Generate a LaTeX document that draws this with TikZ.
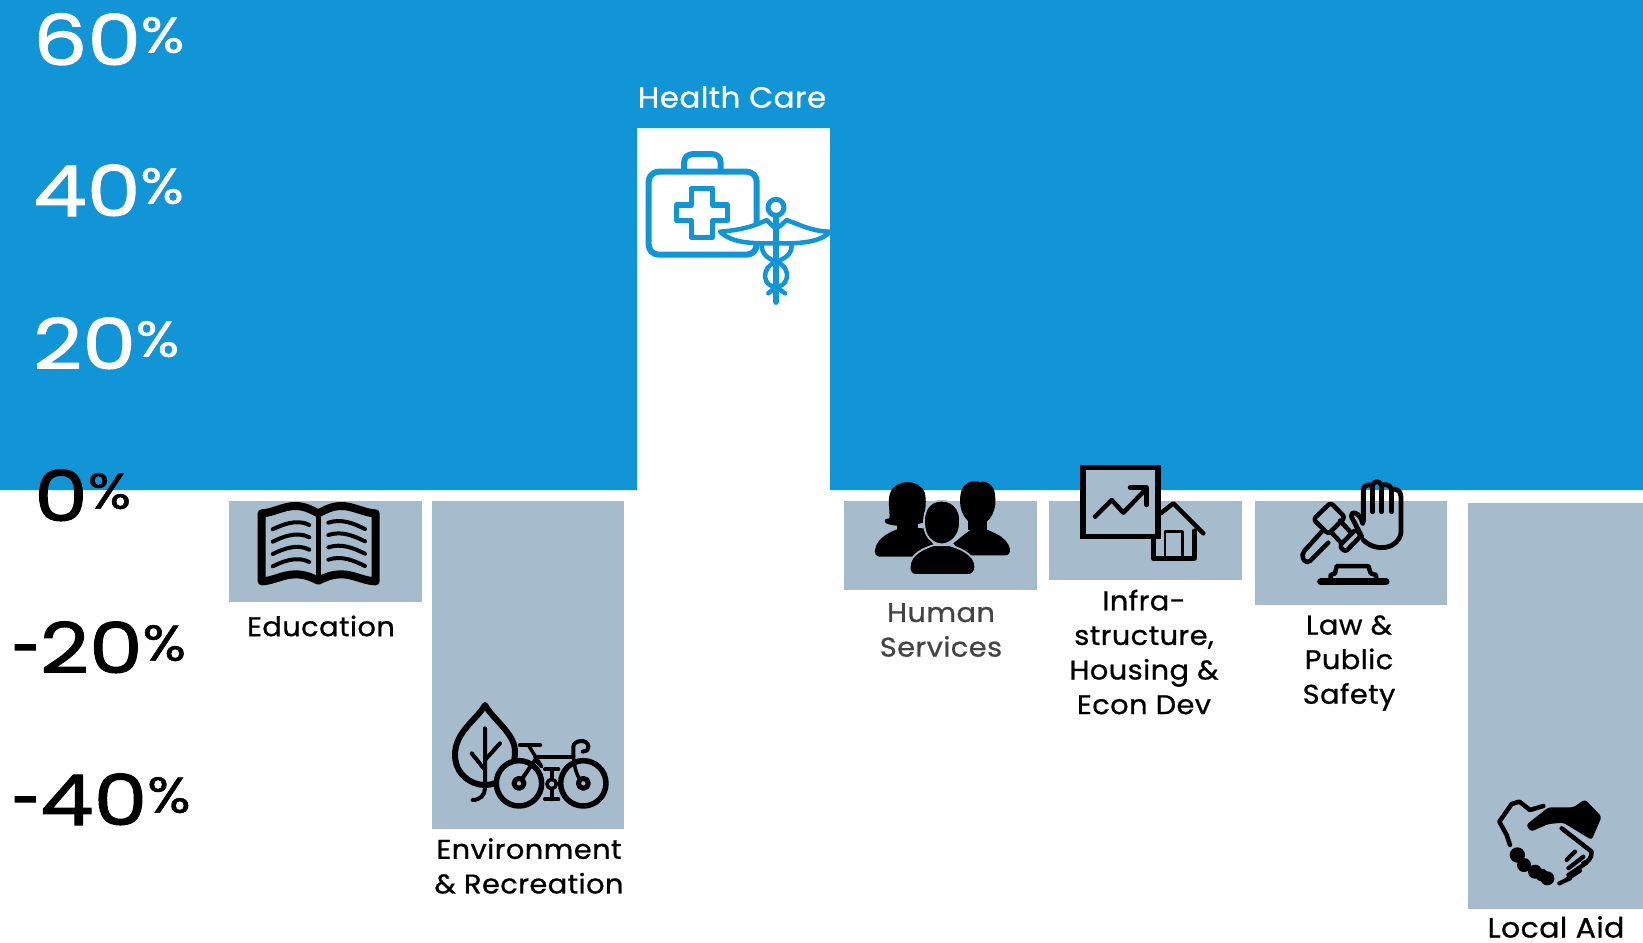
\documentclass[tikz,border=0pt]{standalone}
\usepackage{fontspec}
\setmainfont[FakeBold=0.8,FakeStretch=1.07,LetterSpace=1.5]{Poppins}
\newfontfamily\axf[FakeBold=1.5,FakeStretch=1.22]{Poppins}
\newfontfamily\hyf[FakeBold=1.5,FakeStretch=0.72]{Poppins}
\newfontfamily\pcf[FakeBold=1,FakeStretch=1.14]{Poppins}
\definecolor{barblue}{HTML}{1295D6}
\definecolor{bargray}{HTML}{A6BBCB}
\definecolor{midgray}{HTML}{444444}
\tikzset{
  lab/.style={inner sep=0pt,align=center,font=\fontsize{27}{34.6}\selectfont},
  axis/.style={inner sep=0pt,anchor=base west,font=\axf\fontsize{70}{70}\selectfont},
  bar/.style={fill=bargray},
  ic/.style={line cap=round,line join=round},
  zm/.style={x=0.33333pt,y=-0.33333pt},
}
\newcommand{\pc}{\raisebox{12.5pt}{\pcf\fontsize{50}{50}\selectfont\%}}
\newcommand{\hy}{{\hyf\fontsize{70}{70}\selectfont-}}
\begin{document}
\begin{tikzpicture}[x=1pt,y=-1pt]
\useasboundingbox (0,0) rectangle (1643,942);
\fill[white] (0,0) rectangle (1643,942);
% blue band
\fill[barblue] (0,0)--(1643,0)--(1643,490)--(830,490)--(830,128)--(637,128)--(637,490)--(0,490)--cycle;
% bars
\fill[bar] (229,501) rectangle (422,602);
\fill[bar] (432,501) rectangle (624,829);
\fill[bar] (844,501) rectangle (1037,589.5);
\fill[bar] (1049,501) rectangle (1242,580);
\fill[bar] (1254.5,501) rectangle (1447,605);
\fill[bar] (1467.5,503) rectangle (1643,909);
% axis
\node[axis,white] (a60) at (33,65) {60\pc};
\node[axis,white] (a40) at (33,216) {40\pc};
\node[axis,white] (a20) at (33,369) {20\pc};
\node[axis,black] (a0) at (34,521) {0\pc};
\node[axis,black] (am20) at (12,673) {\hy20\pc};
\node[axis,black] (am40) at (12,825) {\hy40\pc};
% labels
\node[lab,white,font=\fontsize{29}{34.6}\selectfont] (hc) at (732,97) {Health Care};
\node[lab] (edu) at (321,626) {Education};
\node[lab] (env) at (529,866) {Environment\\\& Recreation};
\node[lab,midgray] (hum) at (941,630) {Human\\Services};
\node[lab] (inf) at (1144,652) {Infra-\\structure,\\Housing \&\\Econ Dev};
\node[lab] (law) at (1349,663) {Law \&\\Public\\Safety};
\node[lab,font=\fontsize{28}{34.6}\selectfont] (loc) at (1556,927) {Local Aid};
% medical kit and caduceus
\begin{scope}[shift={(620,130)},zm,ic,draw=barblue,line width=6pt]
\draw (192,118) -- (192,100) .. controls (192,80) and (205,72) .. (222,72) -- (272,72) .. controls (290,72) and (302,80) .. (302,100) -- (302,118);
\draw[rounded corners=10pt] (86,125) rectangle (410,374);
\draw[line width=5.5pt] (214,175)--(278,175)--(278,225)--(322,225)--(322,272)--(278,272)--(278,322)--(214,322)--(214,272)--(170,272)--(170,225)--(214,225)--cycle;
\draw[line width=4.5pt,fill=white] (300,305) .. controls (370,300) and (410,285) .. (440,270) -- (460,290) -- (478,290) -- (500,270) .. controls (540,285) and (580,305) .. (630,305) .. controls (610,330) and (560,340) .. (500,340) -- (440,340) .. controls (380,340) and (330,335) .. (300,305) -- cycle;
\draw[line width=4.5pt] (425,345) .. controls (425,375) and (445,385) .. (468,395) .. controls (495,405) and (505,425) .. (500,445) .. controls (495,465) and (480,470) .. (468,470) .. controls (450,470) and (437,460) .. (435,440) .. controls (435,420) and (445,405) .. (468,395) .. controls (495,385) and (515,375) .. (515,345);
\draw[line width=4.5pt] (445,490) -- (468,470) -- (495,490);
\draw[line width=6.5pt] (468,262) -- (468,515);
\draw[line width=5pt,fill=white] (468,232) circle (24);
\end{scope}
% book
\begin{scope}[shift={(220,480)},zm,ic,line width=8pt]
\draw (125,100) .. controls (155,100) and (190,78) .. (225,78) .. controls (255,78) and (275,90) .. (295,100) .. controls (315,90) and (335,78) .. (365,78) .. controls (400,78) and (435,100) .. (467,100) -- (467,304) .. controls (435,304) and (400,283) .. (365,283) .. controls (335,283) and (315,292) .. (295,302) .. controls (275,292) and (255,283) .. (225,283) .. controls (190,283) and (155,304) .. (125,304) -- cycle;
\draw[line width=4.5pt] (295,100) -- (295,300);
\foreach \d in {0,37,74,111}{
\draw[line width=4pt] (158,148+\d) .. controls (185,135+\d) and (230,115+\d) .. (268,135+\d);
\draw[line width=4pt] (325,128+\d) .. controls (365,115+\d) and (400,130+\d) .. (435,147+\d);
}
\end{scope}
% leaf and bicycle
\begin{scope}[shift={(220,480)},zm,ic,line width=5.5pt]
\draw[line width=6pt] (795,675) .. controls (770,720) and (705,755) .. (705,825) .. controls (705,880) and (750,915) .. (795,915) .. controls (840,915) and (885,880) .. (885,815) .. controls (885,760) and (820,720) .. (795,675) -- cycle;
\draw[line width=4pt] (795,745) -- (795,925) .. controls (795,945) and (780,960) .. (758,960);
\draw[line width=4pt] (755,820) -- (795,870);
\draw[line width=4pt] (840,790) -- (795,840);
\draw[line width=4.5pt] (900,795) -- (960,795);
\draw[line width=3.5pt] (925,795) -- (965,860);
\draw[line width=4pt] (945,830) -- (1060,830);
\draw[line width=4pt] (1060,830) -- (1060,800) .. controls (1060,780) and (1105,775) .. (1105,800) .. controls (1105,812) and (1095,815) .. (1088,815);
\draw[fill=bargray] (897,910) circle (68);
\draw[fill=bargray] (1090,910) circle (68);
\draw[line width=4pt] (897,910) -- (945,840);
\draw[line width=3.5pt] (1060,830) .. controls (1065,870) and (1070,890) .. (1090,910);
\draw[line width=3.5pt] (945,840) -- (965,860);
\draw[line width=5pt,fill=bargray] (897,910) circle (15);
\draw[line width=5pt,fill=bargray] (1090,910) circle (15);
\draw[line width=4pt] (975,868) -- (1015,868);
\draw[line width=4pt] (975,958) -- (1015,958);
\draw[line width=4pt] (995,868) -- (995,958);
\draw[line width=3.5pt,fill=bargray] (995,912) circle (14);
\end{scope}
% people
\begin{scope}[shift={(840,450)},zm,ic]
\fill (145,222) .. controls (155,190) and (140,160) .. (150,130) .. controls (165,85) and (240,85) .. (255,130) .. controls (262,165) and (250,190) .. (258,215) .. controls (240,225) and (160,232) .. (145,222) -- cycle;
\fill (136,208) .. controls (130,218) and (140,224) .. (155,222) -- (165,200) -- cycle;
\fill (170,200) -- (235,200) -- (235,240) -- (170,240) -- cycle;
\fill (105,300) .. controls (110,260) and (160,240) .. (190,232) -- (250,235) -- (290,300) -- (220,320) -- (120,320) .. controls (108,320) and (103,310) .. (105,300) -- cycle;
\fill (362,130) .. controls (368,95) and (405,88) .. (420,97) .. controls (440,88) and (465,110) .. (465,135) .. controls (472,170) and (455,225) .. (412,225) .. controls (385,225) and (352,190) .. (362,130) -- cycle;
\fill (385,200) -- (440,200) -- (440,240) -- (385,240) -- cycle;
\fill (340,280) .. controls (370,255) and (390,240) .. (410,228) .. controls (440,240) and (505,255) .. (510,300) .. controls (510,310) and (505,316) .. (495,316) -- (370,316) -- cycle;
\draw[bargray,line width=1.8pt,fill=black] (305,152) .. controls (262,152) and (246,190) .. (254,235) .. controls (258,265) and (283,283) .. (305,283) .. controls (327,283) and (352,265) .. (358,235) .. controls (368,190) and (348,152) .. (305,152) -- cycle;
\draw[bargray,line width=1.8pt,fill=black] (209,350) .. controls (209,310) and (260,292) .. (280,286) -- (330,286) .. controls (350,292) and (406,310) .. (406,350) .. controls (406,365) and (397,375) .. (385,375) -- (228,375) .. controls (215,375) and (207,365) .. (209,350) -- cycle;
\end{scope}
% chart and house
\begin{scope}[shift={(840,450)},zm,ic]
\draw[line width=5.5pt,fill=bargray,line join=miter] (729,53) rectangle (954,260);
\draw[line width=4.5pt] (765,200) -- (815,150) -- (850,188) -- (918,117);
\draw[line width=4.5pt] (870,113) -- (920,113) -- (920,165);
\draw[line width=4.5pt] (962,190) -- (1000,160) -- (1090,250);
\draw[line width=4.5pt] (940,265) -- (940,325) -- (1063,325) -- (1063,242);
\draw[line width=2.8pt] (975,325) -- (975,245) -- (1027,245) -- (1027,325);
\end{scope}
% gavel and hand
\begin{scope}[shift={(1240,460)},zm,ic,line width=4.5pt]
\draw[line width=4.8pt] (370,185) -- (370,85) .. controls (375,72) and (395,72) .. (397,80) .. controls (400,60) and (420,60) .. (425,78) .. controls (430,70) and (450,72) .. (455,88) .. controls (465,85) and (483,90) .. (483,110) -- (483,215) .. controls (480,265) and (410,280) .. (370,240);
\draw[line width=5pt] (397,80) -- (397,155);
\draw[line width=5pt] (425,78) -- (425,155);
\draw[line width=5pt] (455,88) -- (455,155);
\draw[line width=4.8pt,fill=bargray] (368,190) .. controls (360,155) and (330,150) .. (335,172) .. controls (345,190) and (355,210) .. (365,230);
\draw[rounded corners=3pt,line width=4.5pt,fill=bargray] (272,128) -- (315,172) -- (265,222) -- (220,178) -- cycle;
\draw[rounded corners=3pt,line width=4.5pt,fill=bargray] (347,208) -- (364,226) -- (316,276) -- (298,258) -- cycle;
\draw (300,182) -- (335,220);
\draw (272,215) -- (305,250);
\draw[rounded corners=5pt] (245,215) -- (182,285) -- (200,313) -- (265,248);
\draw[line width=7pt] (242,365) -- (438,365);
\draw (272,358) -- (272,345) -- (285,340) -- (290,318) -- (385,318) -- (392,340) -- (408,345) -- (408,358);
\end{scope}
% handshake
\begin{scope}[shift={(1460,780)},zm,ic]
\draw[line width=4.5pt] (150,195) -- (140,165) -- (118,125) -- (155,72) -- (178,65) -- (210,90) -- (250,78);
\fill[rounded corners=3pt] (198,135) -- (265,82) -- (340,82) -- (375,58) -- (425,110) -- (395,180) -- (310,128) -- (265,132) -- (213,155) -- cycle;
\draw[line width=4.5pt] (305,145) -- (395,215) .. controls (395,235) and (385,245) .. (370,250);
\draw[line width=4.2pt] (345,215) -- (320,240);
\draw[line width=4.2pt] (370,230) -- (325,265);
\draw[line width=4.2pt] (380,248) -- (325,285);
\draw[line width=4.2pt] (360,272) -- (320,298);
\draw[line width=4.2pt] (330,295) -- (298,310);
\fill (172,225) circle (23);
\fill (192,255) circle (21);
\fill (225,275) circle (21);
\fill (245,285) circle (19);
\fill (262,295) circle (21);
\end{scope}
\end{tikzpicture}
\end{document}
